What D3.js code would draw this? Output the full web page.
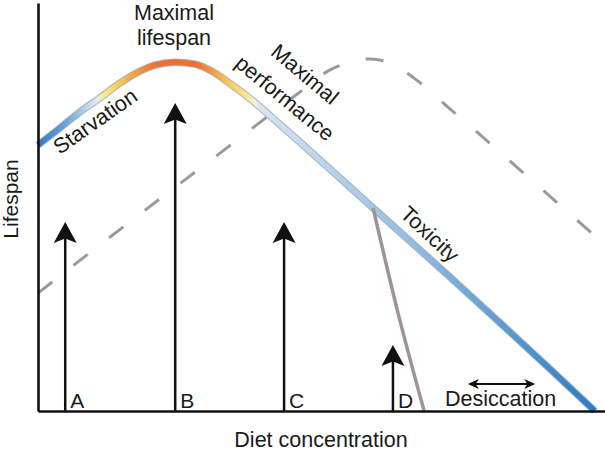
<!DOCTYPE html>
<html>
<head>
<meta charset="utf-8">
<script src="https://cdnjs.cloudflare.com/ajax/libs/d3/7.8.5/d3.min.js"></script>
<style>
  body { margin: 0; background: #fff; }
  svg { display: block; }
  text { font-family: "Liberation Sans", Arial, Helvetica, sans-serif; fill: #1a1a1a; }
</style>
</head>
<body>
<svg width="605" height="454"></svg>
<script>
// diet concentration (0-100) vs lifespan (0-100)
var lifespanCurve = [
  [0, 65.2], [3.9, 69.4], [7.4, 73.3], [10.9, 76.7], [14.5, 80.4], [18.0, 83.3],
  [20.6, 84.8], [24.2, 85.5], [27.7, 85.0], [30.9, 83.1], [34.4, 79.7], [37.9, 76.0],
  [41.8, 71.3], [46.2, 65.9], [55.0, 54.9], [63.8, 43.9], [72.7, 32.8], [81.5, 21.6],
  [90.3, 10.3], [98.2, 0]
];
var performanceCurve = [
  [0, 28.9], [10.9, 40.7], [21.5, 52.0], [32.1, 63.2], [39.2, 70.8], [46.2, 78.2],
  [51.5, 83.6], [55.0, 85.5], [58.6, 86.3], [62.1, 85.3], [66.5, 81.4], [72.7, 74.0],
  [78.8, 66.7], [85.0, 59.1], [91.2, 51.5], [97.4, 43.9], [100, 40.7]
];
var desiccationCurve = [
  [59.1, 49.8], [63.5, 24.0], [68.1, 0]
];
var arrowLabels = ["A", "B", "C", "D"];
var arrowX = [4.8, 24.2, 43.4, 62.6];
var arrowHeight = [46.3, 75.5, 46.3, 16.2];
var desiccationRange = [75.8, 87.7];
var desiccationLevel = 6.6;
// colour along the lifespan curve, by diet concentration
var gradientX = [0, 5, 9, 10.6, 11.2, 13.5, 16, 19, 21, 28, 31, 34, 37, 38.4, 39.2, 50, 65, 80, 98.2];
var gradientColor = ["#2b7bc1", "#6aa5d8", "#c6dbee", "#e2ebf2", "#f6ee9e", "#f9d563", "#f6ad48",
  "#f1843a", "#ee6f30", "#ef7132", "#f3a044", "#f8cf5e", "#f8ea98", "#eef0e0", "#d6e5f2",
  "#bad5ec", "#95bee4", "#629fd7", "#2c7cc2"];

var svg = d3.select("svg"),
    width = +svg.attr("width"),
    height = +svg.attr("height");

var x = d3.scaleLinear().domain([0, 100]).range([38, 605]);
var y = d3.scaleLinear().domain([0, 100]).range([411, 3]);

var line = d3.line()
    .x(function(d) { return x(d[0]); })
    .y(function(d) { return y(d[1]); })
    .curve(d3.curveMonotoneX);
var dropLine = d3.line()
    .x(function(d) { return x(d[0]); })
    .y(function(d) { return y(d[1]); })
    .curve(d3.curveCatmullRom);

var grad = svg.append("defs").append("linearGradient")
    .attr("id", "lifeGrad")
    .attr("gradientUnits", "userSpaceOnUse")
    .attr("x1", x(0)).attr("y1", 0)
    .attr("x2", x(gradientX[gradientX.length - 1])).attr("y2", 0);
grad.selectAll("stop")
    .data(gradientX)
  .enter().append("stop")
    .attr("offset", function(d) { return d / gradientX[gradientX.length - 1]; })
    .attr("stop-color", function(d, i) { return gradientColor[i]; });

// dashed performance curve
svg.append("path")
    .datum(performanceCurve)
    .attr("d", line)
    .attr("fill", "none")
    .attr("stroke", "#9a9a9a")
    .attr("stroke-width", 3)
    .attr("stroke-dasharray", "18 27");

// lifespan curve with thin grey rim
svg.append("path")
    .datum(lifespanCurve)
    .attr("d", line)
    .attr("fill", "none")
    .attr("stroke", "#a9b3ba")
    .attr("stroke-width", 7.5);
svg.append("path")
    .datum(lifespanCurve)
    .attr("d", line)
    .attr("fill", "none")
    .attr("stroke", "url(#lifeGrad)")
    .attr("stroke-width", 5.5);

// desiccation drop
svg.append("path")
    .datum(desiccationCurve)
    .attr("d", dropLine)
    .attr("fill", "none")
    .attr("stroke", "#9c9591")
    .attr("stroke-width", 3.5);

// axes without ticks
svg.append("g")
    .attr("transform", "translate(0," + y(0) + ")")
    .call(d3.axisBottom(x).tickValues([]).tickSizeOuter(0))
    .select(".domain").attr("stroke", "#111").attr("stroke-width", 2.6);
svg.append("g")
    .attr("transform", "translate(" + x(0) + ",0)")
    .call(d3.axisLeft(y).tickValues([]).tickSizeOuter(0))
    .select(".domain").attr("stroke", "#111").attr("stroke-width", 2.6);

// vertical arrows A-D
var arrows = svg.selectAll(".arrow")
    .data(arrowLabels)
  .enter().append("g")
    .attr("class", "arrow");
arrows.append("line")
    .attr("x1", function(d, i) { return x(arrowX[i]); })
    .attr("x2", function(d, i) { return x(arrowX[i]); })
    .attr("y1", y(0))
    .attr("y2", function(d, i) { return y(arrowHeight[i]) + 14; })
    .attr("stroke", "#111")
    .attr("stroke-width", 2.5);
arrows.append("path")
    .attr("d", "M0,0L11.5,21L0,16.5L-11.5,21Z")
    .attr("transform", function(d, i) { return "translate(" + x(arrowX[i]) + "," + y(arrowHeight[i]) + ")"; })
    .attr("fill", "#111");
arrows.append("text")
    .attr("x", function(d, i) { return x(arrowX[i]) + 5; })
    .attr("y", 408)
    .style("font-size", "21px")
    .text(function(d) { return d; });

// desiccation double arrow
var dy0 = y(desiccationLevel);
svg.append("line")
    .attr("x1", x(desiccationRange[0]) + 4)
    .attr("x2", x(desiccationRange[1]) - 4)
    .attr("y1", dy0).attr("y2", dy0)
    .attr("stroke", "#111")
    .attr("stroke-width", 2);
svg.append("path")
    .attr("d", "M0,0L11,-5L8,0L11,5Z")
    .attr("transform", "translate(" + x(desiccationRange[0]) + "," + dy0 + ")")
    .attr("fill", "#111");
svg.append("path")
    .attr("d", "M0,0L-11,-5L-8,0L-11,5Z")
    .attr("transform", "translate(" + x(desiccationRange[1]) + "," + dy0 + ")")
    .attr("fill", "#111");
svg.append("text")
    .attr("x", 445)
    .attr("y", 406)
    .style("font-size", "21.5px")
    .text("Desiccation");

// annotations
svg.append("text")
    .attr("x", 174).attr("y", 20)
    .attr("text-anchor", "middle")
    .style("font-size", "21.5px")
    .text("Maximal");
svg.append("text")
    .attr("x", 174).attr("y", 45)
    .attr("text-anchor", "middle")
    .style("font-size", "21.5px")
    .text("lifespan");

var rotated = [
  { t: "Starvation", cx: 95, cy: 121, a: -35 },
  { t: "Maximal", cx: 305, cy: 74, a: 40 },
  { t: "performance", cx: 285, cy: 98, a: 39.5 },
  { t: "Toxicity", cx: 430, cy: 234, a: 43 }
];
svg.selectAll(".rot")
    .data(rotated)
  .enter().append("text")
    .attr("class", "rot")
    .attr("transform", function(d) { return "translate(" + d.cx + "," + d.cy + ") rotate(" + d.a + ")"; })
    .attr("text-anchor", "middle")
    .attr("dy", "0.35em")
    .style("font-size", "21.5px")
    .text(function(d) { return d.t; });

// axis titles
svg.append("text")
    .attr("x", 321).attr("y", 447)
    .attr("text-anchor", "middle")
    .style("font-size", "21.5px")
    .text("Diet concentration");
svg.append("text")
    .attr("transform", "translate(18,199) rotate(-90)")
    .attr("text-anchor", "middle")
    .style("font-size", "21px")
    .text("Lifespan");
</script>
</body>
</html>
